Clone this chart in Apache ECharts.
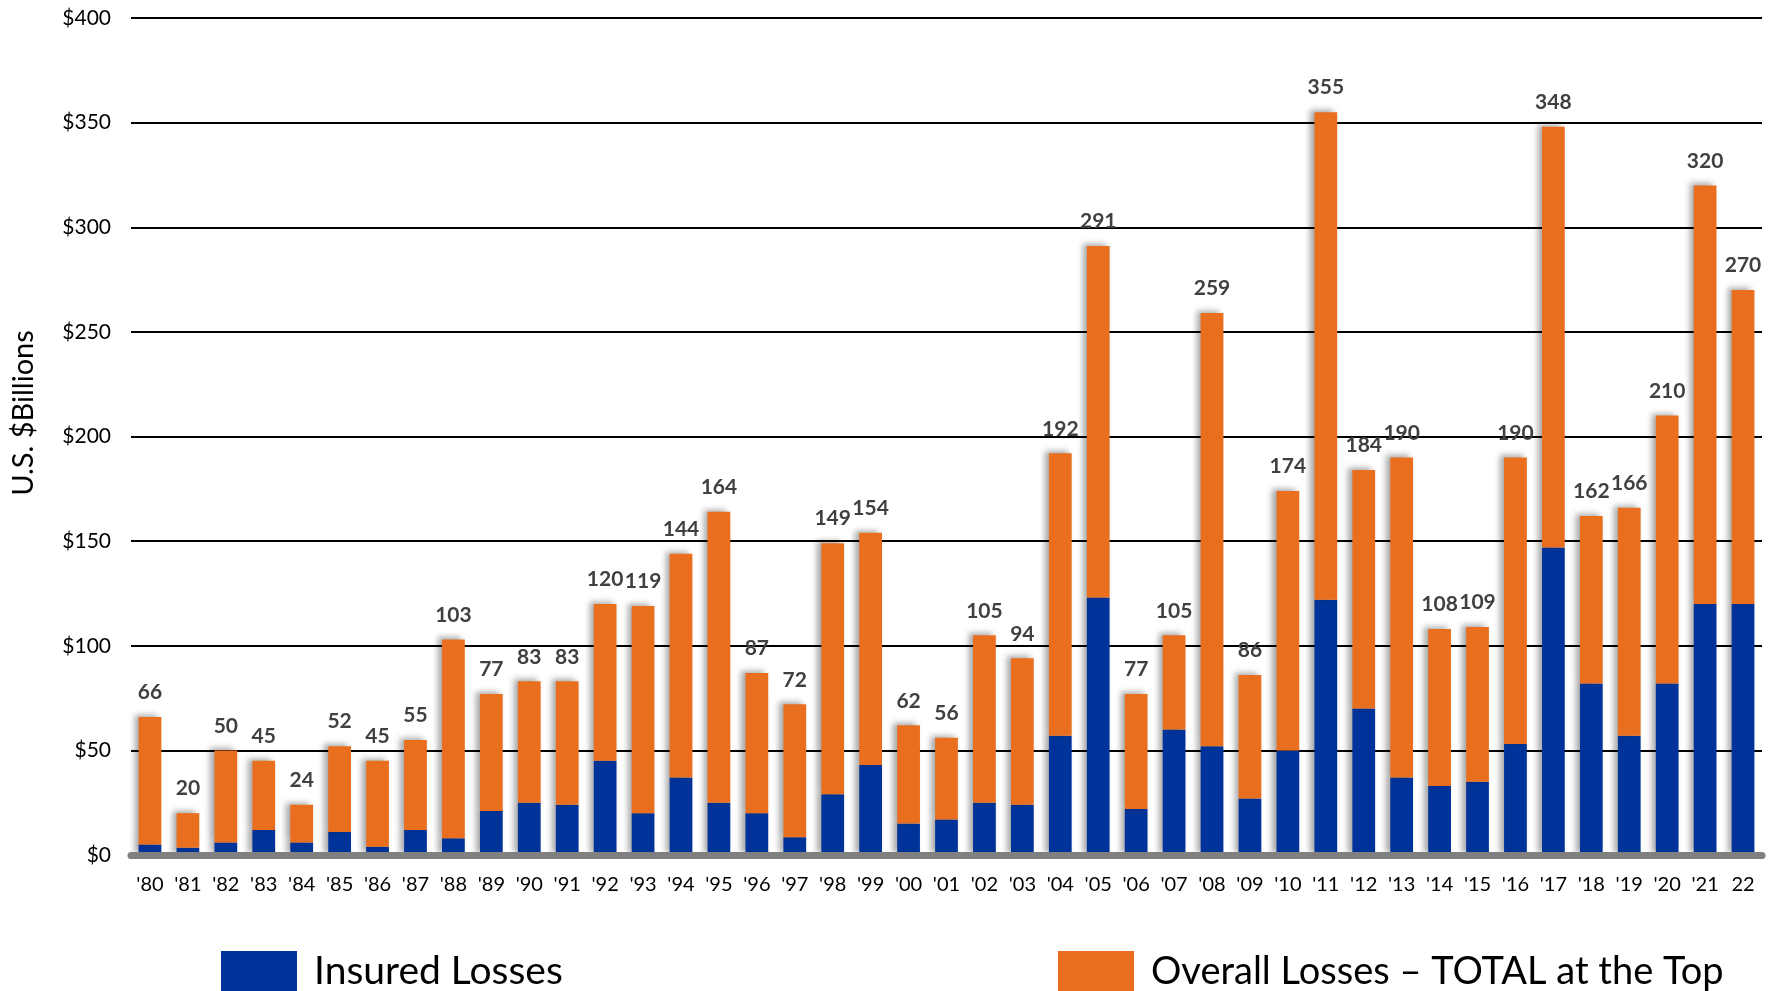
<!DOCTYPE html>
<html>
<head>
<meta charset="utf-8">
<script src="https://cdn.jsdelivr.net/npm/echarts@6/dist/echarts.min.js"></script>
<style>
html,body{margin:0;padding:0;background:#fff;}
#chart{width:1777px;height:991px;}
</style>
</head>
<body>
<div id="chart"></div>
<script>
const years = ["'80","'81","'82","'83","'84","'85","'86","'87","'88","'89","'90","'91","'92","'93","'94","'95","'96","'97","'98","'99","'00","'01","'02","'03","'04","'05","'06","'07","'08","'09","'10","'11","'12","'13","'14","'15","'16","'17","'18","'19","'20","'21","22"];
const totalLosses = [66,20,50,45,24,52,45,55,103,77,83,83,120,119,144,164,87,72,149,154,62,56,105,94,192,291,77,105,259,86,174,355,184,190,108,109,190,348,162,166,210,320,270];
const insuredLosses = [5,3.5,6,12,6,11,4,12,8,21,25,24,45,20,37,25,20,8.5,29,43,15,17,25,24,57,123,22,60,52,27,50,122,70,37,33,35,53,147,82,57,82,120,120];
const yTicks = [0,50,100,150,200,250,300,350,400];

const uninsured = totalLosses.map((t, i) => t - insuredLosses[i]);
const FONT = 'Lato, "Open Sans", sans-serif';
const shadow = {shadowColor:'rgba(0,0,0,0.35)', shadowBlur:6, shadowOffsetX:-4, shadowOffsetY:-2};

const chart = echarts.init(document.getElementById('chart'));
chart.setOption({
  animation: false,
  backgroundColor: '#fff',
  textStyle: {fontFamily: FONT},
  grid: {left: 131, right: 15, top: 18, bottom: 136},
  graphic: [{
    type: 'text', x: 24, y: 413, rotation: Math.PI / 2,
    style: {text: 'U.S. $Billions', fontSize: 29, fontFamily: FONT, fill: '#000', align: 'center', verticalAlign: 'middle'}
  }],
  legend: [{
    data: ['Insured Losses'], left: 216, top: 946, itemWidth: 76, itemHeight: 41,
    icon: 'rect',
    textStyle: {fontSize: 39, color: '#000', fontFamily: FONT, padding: [0,0,0,12]}
  }, {
    data: ['Overall Losses – TOTAL at the Top'], left: 1053, top: 946, itemWidth: 76, itemHeight: 41,
    icon: 'rect',
    textStyle: {fontSize: 38, color: '#000', fontFamily: FONT, padding: [0,0,0,12]}
  }],
  xAxis: {
    type: 'category', data: years, z: 10,
    axisLine: {show: true, lineStyle: {color: '#808080', width: 7}},
    axisTick: {show: false},
    axisLabel: {fontSize: 20, color: '#000', margin: 20, interval: 0, fontFamily: FONT}
  },
  yAxis: {
    type: 'value', min: yTicks[0], max: yTicks[yTicks.length - 1], interval: 50,
    axisLine: {show: false}, axisTick: {show: false},
    axisLabel: {fontSize: 21, color: '#000', margin: 20, formatter: v => '$' + v, fontFamily: FONT},
    splitLine: {lineStyle: {color: '#000', width: 2}}
  },
  series: [{
    name: 'Insured Losses', type: 'bar', stack: 'loss', barCategoryGap: '40%',
    data: insuredLosses,
    itemStyle: Object.assign({color: '#003399'}, shadow)
  }, {
    name: 'Overall Losses – TOTAL at the Top', type: 'bar', stack: 'loss', barCategoryGap: '40%',
    data: uninsured,
    itemStyle: Object.assign({color: '#E96F1E'}, shadow),
    label: {
      show: true, position: 'top', distance: 14,
      fontSize: 21, fontWeight: 'bold', color: '#404040', fontFamily: FONT,
      formatter: p => String(totalLosses[p.dataIndex])
    }
  }]
});
</script>
</body>
</html>
